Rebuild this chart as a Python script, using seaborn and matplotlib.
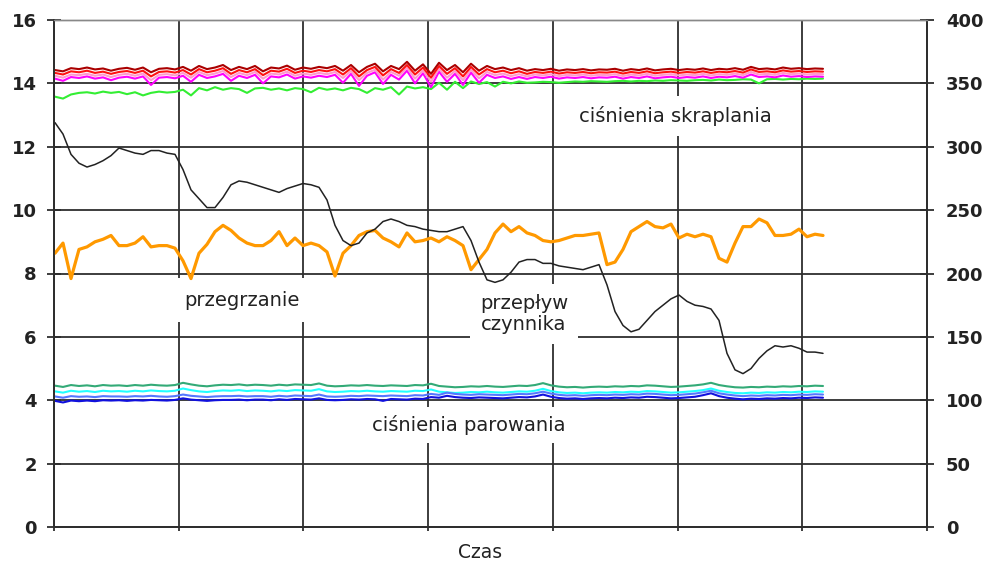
import numpy as np
import pandas as pd
import matplotlib
matplotlib.use("Agg")
import matplotlib.pyplot as plt
import seaborn as sns

# ---------------- data ----------------
# condensing pressures (left axis)
p_kond_1 = [14.42,14.38,14.48,14.45,14.50,14.44,14.47,14.40,14.46,14.49,
            14.43,14.50,14.35,14.46,14.48,14.44,14.52,14.40,14.55,14.45,
            14.50,14.58,14.42,14.52,14.45,14.55,14.38,14.50,14.47,14.56,
            14.43,14.50,14.46,14.52,14.48,14.55,14.40,14.58,14.35,14.52,
            14.62,14.38,14.55,14.45,14.68,14.40,14.60,14.30,14.65,14.42,
            14.58,14.35,14.62,14.40,14.55,14.45,14.50,14.42,14.48,14.40,
            14.45,14.42,14.46,14.40,14.44,14.42,14.45,14.41,14.44,14.43,
            14.46,14.40,14.45,14.42,14.47,14.41,14.44,14.46,14.42,14.45,
            14.43,14.47,14.42,14.46,14.44,14.48,14.43,14.52,14.45,14.47,
            14.44,14.50,14.46,14.48,14.45,14.47,14.46]
p_kond_2 = [14.33,14.28,14.38,14.35,14.40,14.33,14.37,14.30,14.36,14.39,
            14.33,14.40,14.22,14.36,14.38,14.34,14.42,14.28,14.45,14.35,
            14.40,14.48,14.30,14.42,14.35,14.45,14.26,14.40,14.37,14.46,
            14.33,14.40,14.36,14.42,14.38,14.45,14.28,14.48,14.22,14.42,
            14.52,14.25,14.45,14.33,14.58,14.28,14.50,14.18,14.55,14.30,
            14.48,14.22,14.52,14.28,14.45,14.35,14.40,14.32,14.38,14.30,
            14.36,14.33,14.37,14.31,14.35,14.33,14.36,14.32,14.35,14.34,
            14.37,14.31,14.36,14.33,14.38,14.32,14.35,14.37,14.33,14.36,
            14.34,14.38,14.33,14.37,14.35,14.39,14.34,14.44,14.36,14.38,
            14.35,14.41,14.37,14.39,14.36,14.38,14.37]
p_kond_3 = [14.24,14.18,14.28,14.26,14.30,14.24,14.28,14.20,14.27,14.30,
            14.24,14.31,14.10,14.27,14.29,14.25,14.33,14.18,14.36,14.26,
            14.31,14.39,14.20,14.33,14.26,14.36,14.15,14.31,14.28,14.37,
            14.24,14.31,14.27,14.33,14.29,14.36,14.17,14.39,14.10,14.33,
            14.43,14.12,14.36,14.24,14.49,14.15,14.41,14.05,14.46,14.18,
            14.39,14.10,14.43,14.16,14.36,14.26,14.31,14.23,14.29,14.22,
            14.28,14.25,14.29,14.23,14.27,14.25,14.28,14.24,14.27,14.26,
            14.29,14.23,14.28,14.25,14.30,14.24,14.27,14.29,14.25,14.28,
            14.26,14.30,14.25,14.29,14.27,14.31,14.26,14.36,14.28,14.30,
            14.27,14.33,14.29,14.31,14.28,14.30,14.29]
p_kond_4 = [14.15,14.08,14.20,14.17,14.22,14.15,14.19,14.10,14.18,14.21,
            14.15,14.22,13.95,14.18,14.20,14.16,14.24,14.05,14.27,14.17,
            14.22,14.30,14.08,14.24,14.17,14.27,14.00,14.22,14.19,14.28,
            14.15,14.22,14.18,14.24,14.20,14.27,14.02,14.30,13.92,14.24,
            14.35,13.98,14.27,14.12,14.40,14.00,14.32,13.88,14.37,14.05,
            14.30,13.95,14.34,14.02,14.27,14.17,14.22,14.14,14.20,14.14,
            14.20,14.17,14.21,14.15,14.19,14.17,14.20,14.16,14.19,14.18,
            14.21,14.15,14.20,14.17,14.22,14.16,14.19,14.21,14.17,14.20,
            14.18,14.22,14.17,14.21,14.19,14.23,14.18,14.28,14.20,14.22,
            14.19,14.25,14.21,14.23,14.20,14.22,14.21]
p_kond_5 = [13.58,13.52,13.65,13.70,13.72,13.68,13.74,13.70,13.73,13.66,
            13.72,13.62,13.70,13.74,13.71,13.73,
            13.80,13.62,13.85,13.78,13.88,13.80,13.85,13.82,13.70,13.84,
            13.86,13.80,13.84,13.78,13.85,13.82,13.72,13.86,13.80,13.84,
            13.78,13.86,13.82,13.70,13.85,13.80,13.88,13.65,13.90,13.84,
            13.88,13.82,
            14.02,13.80,14.05,13.85,14.06,13.98,14.04,13.90,14.05,14.00,
            14.06,14.02,14.03,14.05,14.04,14.02,
            14.04,14.06,14.05,14.07,14.06,14.05,14.07,14.08,14.06,14.08,
            14.07,14.09,14.08,14.10,14.09,14.08,14.10,14.11,14.09,14.12,
            14.10,14.11,14.13,14.12,14.00,14.13,14.14,14.12,14.14,14.13,
            14.15,14.14,14.15]

# evaporating pressures (left axis)
p_par_1 = [4.46,4.42,4.48,4.45,4.47,4.44,4.48,4.46,4.47,4.45,4.48,4.46,4.49,4.47,4.46,4.48,
           4.55,4.50,4.46,4.44,4.47,4.49,4.48,4.50,4.47,4.49,4.48,4.46,4.49,4.47,4.50,4.49,
           4.48,4.53,4.46,4.44,4.45,4.47,4.46,4.48,4.46,4.45,4.47,4.46,4.45,4.48,4.47,4.52,
           4.45,4.43,4.41,4.42,4.44,4.43,4.45,4.43,4.42,4.44,4.46,4.45,4.48,4.54,4.47,4.43,
           4.41,4.42,4.40,4.42,4.43,4.42,4.44,4.43,4.45,4.44,4.47,4.46,4.44,4.42,4.43,4.45,
           4.47,4.50,4.55,4.48,4.44,4.41,4.40,4.42,4.41,4.43,4.42,4.44,4.43,4.45,4.44,4.46,4.45]
p_par_2 = [4.28,4.24,4.30,4.27,4.29,4.26,4.30,4.28,4.29,4.27,4.30,4.28,4.31,4.29,4.28,4.30,
           4.37,4.32,4.28,4.26,4.29,4.31,4.30,4.32,4.29,4.31,4.30,4.28,4.31,4.29,4.32,4.31,
           4.30,4.35,4.28,4.26,4.27,4.29,4.28,4.30,4.28,4.27,4.29,4.28,4.27,4.30,4.29,4.34,
           4.27,4.25,4.23,4.24,4.26,4.25,4.27,4.25,4.24,4.26,4.28,4.27,4.30,4.36,4.29,4.25,
           4.23,4.24,4.22,4.24,4.25,4.24,4.26,4.25,4.27,4.26,4.29,4.28,4.26,4.24,4.25,4.27,
           4.29,4.32,4.37,4.30,4.26,4.23,4.22,4.24,4.23,4.25,4.24,4.26,4.25,4.27,4.26,4.28,4.27]
p_par_3 = [4.12,4.08,4.13,4.11,4.12,4.10,4.13,4.12,4.12,4.11,4.13,4.12,4.14,4.12,4.11,4.13,
           4.18,4.14,4.12,4.10,4.12,4.13,4.13,4.14,4.12,4.13,4.13,4.11,4.14,4.12,4.15,4.14,
           4.13,4.18,4.12,4.11,4.12,4.14,4.13,4.15,4.14,4.13,4.15,4.14,4.13,4.16,4.15,4.20,
           4.17,4.24,4.20,4.18,4.17,4.19,4.18,4.17,4.16,4.18,4.20,4.19,4.22,4.27,4.21,4.17,
           4.15,4.16,4.14,4.16,4.17,4.16,4.18,4.17,4.19,4.18,4.21,4.20,4.18,4.16,4.17,4.19,
           4.21,4.25,4.30,4.22,4.18,4.15,4.13,4.15,4.14,4.16,4.15,4.17,4.16,4.18,4.17,4.19,4.18]
p_par_4 = [3.98,3.93,3.99,3.97,3.99,3.97,4.00,3.99,4.00,3.98,4.00,3.99,4.01,4.00,3.99,4.01,
           4.06,4.02,4.00,3.98,4.00,4.01,4.01,4.02,4.00,4.02,4.02,4.00,4.03,4.01,4.04,4.03,
           4.02,4.06,4.01,4.00,4.01,4.03,4.02,4.04,4.03,3.98,4.04,4.03,4.02,4.05,4.04,4.10,
           4.08,4.14,4.10,4.08,4.07,4.09,4.08,4.07,4.06,4.08,4.10,4.09,4.12,4.18,4.11,4.07,
           4.05,4.06,4.04,4.06,4.07,4.06,4.08,4.07,4.09,4.08,4.11,4.10,4.08,4.06,4.07,4.09,
           4.11,4.16,4.22,4.13,4.08,4.05,4.03,4.05,4.04,4.06,4.05,4.07,4.06,4.08,4.07,4.09,4.08]

# superheat (right axis)
przegrzanie = [216,224,196,219,221,225,227,230,222,222,
               224,229,221,222,222,220,210,196,216,223,
               233,238,234,228,224,222,222,226,233,222,
               228,222,224,222,217,198,216,222,230,233,
               234,228,225,221,232,225,226,228,225,229,
               226,222,203,211,219,232,239,233,237,232,
               230,226,225,226,228,230,230,231,232,207,
               209,219,233,237,241,237,236,239,228,231,
               229,231,229,212,209,224,237,237,243,240,
               230,230,231,235,229,231,230]

# refrigerant flow (right axis)
przeplyw = [319,310,294,287,284,286,289,293,299,297,
            295,294,297,297,295,294,282,266,259,252,
            252,260,270,273,272,270,268,266,264,267,
            269,271,270,268,258,238,226,222,224,232,
            235,241,243,241,238,237,235,234,233,233,
            235,237,226,209,195,193,195,201,209,211,
            211,208,208,206,205,204,203,205,207,191,
            170,159,154,156,163,170,175,180,183,178,
            175,174,172,163,137,124,121,125,133,139,
            143,142,143,141,138,138,137]

left_ticks = [0, 2, 4, 6, 8, 10, 12, 14, 16]
right_ticks = [0, 50, 100, 150, 200, 250, 300, 350, 400]

czas = np.arange(len(przeplyw))

# ---------------- figure ----------------
sns.set_style("white")
plt.rcParams['font.family'] = ['DejaVu Sans']

W, H = 984, 564
fig = plt.figure(figsize=(W / 100, H / 100), dpi=100)
L, R, T, B = 54, 927, 20, 527
ax = fig.add_axes([L / W, 1 - B / H, (R - L) / W, (B - T) / H])
ax2 = ax.twinx()

grid_c = '#2e2e2e'

kond = [(p_kond_5, '#33ee33'), (p_kond_4, '#ff00ff'), (p_kond_3, '#ff99cc'),
        (p_kond_2, '#ff1111'), (p_kond_1, '#aa0000')]
for vals, c in kond:
    sns.lineplot(x=czas, y=vals, ax=ax, color=c, lw=1.5, estimator=None)

par = [(p_par_1, '#33aa77'), (p_par_2, '#22ffff'), (p_par_3, '#5577ff'), (p_par_4, '#1111dd')]
for vals, c in par:
    sns.lineplot(x=czas, y=vals, ax=ax, color=c, lw=1.5, estimator=None)

sns.lineplot(x=czas, y=przegrzanie, ax=ax2, color='#ff9900', lw=2.3, estimator=None)
sns.lineplot(x=czas, y=przeplyw, ax=ax2, color='#222222', lw=1.1, estimator=None)

xmin, xmax = (L - 55) / 8, (R - 55) / 8
ax.set_xlim(xmin, xmax)
ax.set_ylim(0, 16)
ax2.set_ylim(0, 400)
ax.set_xticks(np.linspace(xmin, xmax, 8))
ax.set_xticklabels([])
ax.set_yticks(left_ticks)
ax.set_yticklabels([str(v) for v in left_ticks])
ax2.set_yticks(right_ticks)
ax2.set_yticklabels([str(v) for v in right_ticks])

ax.grid(True, color=grid_c, lw=1.3)
ax.tick_params(axis='x', direction='out', length=3, width=1.3, color=grid_c, bottom=True)
ax.tick_params(axis='y', direction='inout', length=10, width=1.3, color=grid_c,
               labelsize=13, pad=7.5, left=True)
ax2.tick_params(axis='y', direction='inout', length=10, width=1.3, color=grid_c,
                labelsize=13, pad=8.5, right=True)
for lab in ax.get_yticklabels() + ax2.get_yticklabels():
    lab.set_fontweight('bold')
    lab.set_color('#222222')

for a in (ax, ax2):
    for s in ('left', 'right', 'bottom'):
        a.spines[s].set_color(grid_c)
        a.spines[s].set_linewidth(1.3)
    a.spines['top'].set_color('#888888')
    a.spines['top'].set_linewidth(1.0)
    a.set_ylabel('')

ax.set_xlabel('Czas', fontsize=13.5, color='#222222')
ax.xaxis.set_label_coords((480 - L) / (R - L), -(543 - B) / (B - T))


def px2data(px, py):
    x = xmin + (px - L) / (R - L) * (xmax - xmin)
    y = (B - py) / (B - T) * 16
    return x, y


def label(txt, px, py, pad):
    x, y = px2data(px, py)
    ax.text(x, y, txt, fontsize=14, color='#222222', ha='center', va='center',
            zorder=1.8, linespacing=1.15,
            bbox=dict(boxstyle='square,pad=%s' % pad, facecolor='white', edgecolor='none'))


label('ciśnienia skraplania', 675, 116, 0.5)
label('przegrzanie', 242, 300, 0.65)
label('przepływ\nczynnika', 524, 314, 0.5)
label('ciśnienia parowania', 469, 425, 0.4)

fig.savefig('out.png', dpi=100)
